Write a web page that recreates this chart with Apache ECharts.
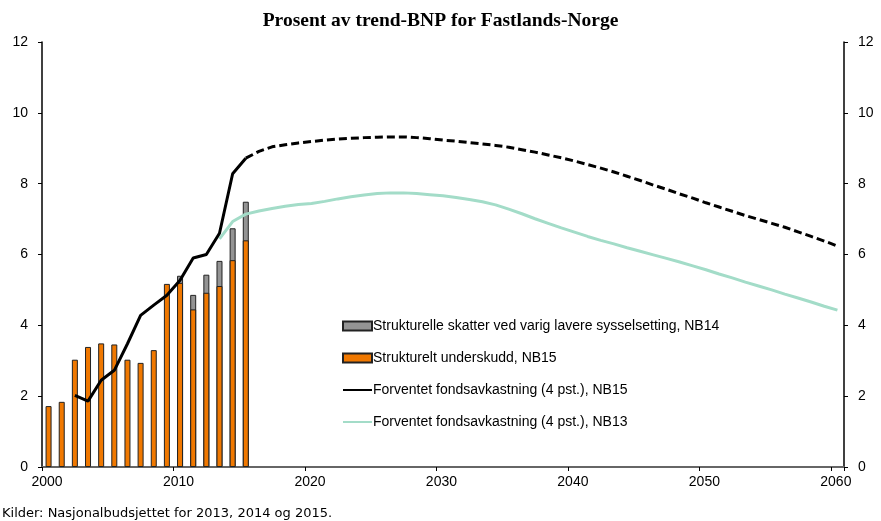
<!DOCTYPE html>
<html>
<head>
<meta charset="utf-8">
<script src="https://cdn.jsdelivr.net/npm/echarts@6/dist/echarts.min.js"></script>
<style>html,body{margin:0;padding:0;background:#fff;}#c{width:881px;height:521px;}</style>
</head>
<body>
<div id="c"></div>
<script>
// Bars: years 2000-2015
var barYears = [2000,2001,2002,2003,2004,2005,2006,2007,2008,2009,2010,2011,2012,2013,2014,2015];
var underskudd = [1.72,1.84,3.03,3.39,3.49,3.46,3.03,2.94,3.30,5.17,5.20,4.45,4.92,5.11,5.84,6.40];
var skatter = [null,null,null,null,null,null,null,null,null,null,0.20,0.41,0.51,0.71,0.90,1.09];

// NB15 expected fund return, actual (solid)
var nb15Years = [2002,2003,2004,2005,2006,2007,2008,2009,2010,2011,2012,2013,2014,2015];
var nb15Values = [2.02,1.86,2.45,2.73,3.48,4.28,4.57,4.85,5.27,5.90,6.00,6.60,8.28,8.72];

// NB15 projection (dashed) 2015-2060
var nb15ProjYears = [2015,2016,2017,2018,2019,2020,2021,2022,2023,2024,2025,2026,2027,2028,2029,2030,2031,2032,2033,2034,2035,2036,2037,2038,2039,2040,2041,2042,2043,2044,2045,2046,2047,2048,2049,2050,2051,2052,2053,2054,2055,2056,2057,2058,2059,2060];
var nb15ProjValues = [8.72,8.91,9.04,9.10,9.15,9.19,9.23,9.26,9.28,9.30,9.31,9.32,9.32,9.30,9.27,9.23,9.20,9.16,9.12,9.08,9.03,8.96,8.89,8.81,8.73,8.64,8.54,8.44,8.33,8.21,8.09,7.96,7.84,7.71,7.59,7.46,7.34,7.22,7.10,6.99,6.88,6.77,6.64,6.51,6.38,6.24];

// NB13 expected fund return 2013-2060
var nb13Years = [2013,2014,2015,2016,2017,2018,2019,2020,2021,2022,2023,2024,2025,2026,2027,2028,2029,2030,2031,2032,2033,2034,2035,2036,2037,2038,2039,2040,2041,2042,2043,2044,2045,2046,2047,2048,2049,2050,2051,2052,2053,2054,2055,2056,2057,2058,2059,2060];
var nb13Values = [6.44,6.93,7.14,7.23,7.30,7.36,7.41,7.44,7.50,7.57,7.63,7.68,7.72,7.74,7.74,7.72,7.69,7.66,7.61,7.55,7.49,7.40,7.28,7.15,7.01,6.88,6.75,6.63,6.51,6.40,6.30,6.19,6.09,5.99,5.89,5.79,5.68,5.57,5.45,5.34,5.22,5.11,5.00,4.88,4.77,4.66,4.54,4.43];

var xTickLabels = ['2000','2010','2020','2030','2040','2050','2060'];
var yTickLabels = ['0','2','4','6','8','10','12'];

var names = {
  skatter: 'Strukturelle skatter ved varig lavere sysselsetting, NB14',
  underskudd: 'Strukturelt underskudd, NB15',
  nb15: 'Forventet fondsavkastning (4 pst.), NB15',
  nb13: 'Forventet fondsavkastning (4 pst.), NB13'
};
var title = 'Prosent av trend-BNP for Fastlands-Norge';
var source = 'Kilder: Nasjonalbudsjettet for 2013, 2014 og 2015.';

// Annual values are plotted mid-year (year + 0.5)
function pairs(years, vals) {
  return years.map(function (y, i) { return [y + 0.5, vals[i]]; });
}
// Gray segment sits on top of the orange bar: draw its top at underskudd + skatter
var skatterTop = barYears.map(function (y, i) {
  return skatter[i] == null ? null : [y + 0.5, +(underskudd[i] + skatter[i]).toFixed(2)];
});

var chart = echarts.init(document.getElementById('c'), null, {renderer: 'canvas'});
var axisFont = {fontFamily: 'Liberation Sans', fontSize: 14, color: '#000'};
function fmt(list) { return function (v) { var s = String(v); return list.indexOf(s) >= 0 ? s : ''; }; }
var hiddenSym = {color: 'rgba(0,0,0,0)', borderWidth: 0, opacity: 0};

chart.setOption({
  animation: false,
  title: {
    text: title, left: 'center', top: 6,
    textStyle: {fontFamily: 'Liberation Serif', fontWeight: 'bold', fontSize: 19.5, color: '#000'}
  },
  grid: {left: 42, right: 37, top: 42, bottom: 54, containLabel: false},
  legend: {
    orient: 'vertical', left: 337, top: 313,
    itemWidth: 29, itemHeight: 9, itemGap: 16,
    data: [
      {name: names.skatter, icon: 'rect'},
      {name: names.underskudd, icon: 'rect'},
      {name: names.nb15, itemStyle: hiddenSym},
      {name: names.nb13, itemStyle: hiddenSym}
    ],
    textStyle: {fontFamily: 'Liberation Sans', fontSize: 14, color: '#000', lineHeight: 16, padding: [0, 0, 0, -4]}
  },
  xAxis: [{
    type: 'value', min: 2000, max: 2061, interval: 10,
    axisLine: {show: true, lineStyle: {color: '#000', width: 1.5}},
    axisTick: {show: true, length: 4, lineStyle: {color: '#000'}},
    axisLabel: Object.assign({margin: 8, padding: [0, 0, 0, 10], formatter: fmt(xTickLabels)}, axisFont),
    splitLine: {show: false}
  }, {
    type: 'value', position: 'top', min: 2000, max: 2061,
    axisLine: {show: true, lineStyle: {color: '#666', width: 2}},
    axisTick: {show: false}, axisLabel: {show: false}, splitLine: {show: false}
  }],
  yAxis: [{
    type: 'value', min: 0, max: 12, interval: 2, position: 'left',
    axisLine: {show: true, lineStyle: {color: '#000', width: 1.5}},
    axisTick: {show: true, length: 4, lineStyle: {color: '#000'}},
    axisLabel: Object.assign({margin: 14, formatter: fmt(yTickLabels)}, axisFont),
    splitLine: {show: false}
  }, {
    type: 'value', min: 0, max: 12, interval: 2, position: 'right',
    axisLine: {show: true, lineStyle: {color: '#000', width: 1.5}},
    axisTick: {show: true, length: 4, lineStyle: {color: '#000'}},
    axisLabel: Object.assign({margin: 14, formatter: fmt(yTickLabels)}, axisFont),
    splitLine: {show: false}
  }],
  series: [{
    name: names.skatter, type: 'bar', barWidth: 6, barGap: '-100%',
    data: skatterTop,
    itemStyle: {color: '#949494', borderColor: '#222', borderWidth: 1}
  }, {
    name: names.underskudd, type: 'bar', barWidth: 6, barGap: '-100%',
    data: pairs(barYears, underskudd),
    itemStyle: {color: '#f07800', borderColor: '#222', borderWidth: 1}
  }, {
    name: names.nb15, type: 'line', symbol: 'none', z: 5,
    data: pairs(nb15Years, nb15Values),
    lineStyle: {color: '#000', width: 3},
    itemStyle: {color: '#000'}
  }, {
    name: names.nb15, type: 'line', symbol: 'none', z: 5,
    data: pairs(nb15ProjYears, nb15ProjValues),
    lineStyle: {color: '#000', width: 3, type: [8, 4]},
    itemStyle: {color: '#000'}
  }, {
    name: names.nb13, type: 'line', symbol: 'none', z: 4,
    data: pairs(nb13Years, nb13Values),
    lineStyle: {color: '#a3dcc8', width: 3},
    itemStyle: {color: '#a3dcc8'}
  }],
  graphic: [{
    type: 'text', left: 2, top: 507,
    style: {text: source, fontFamily: 'DejaVu Sans', fontSize: 13, fill: '#000'}
  }]
});
</script>
</body>
</html>
